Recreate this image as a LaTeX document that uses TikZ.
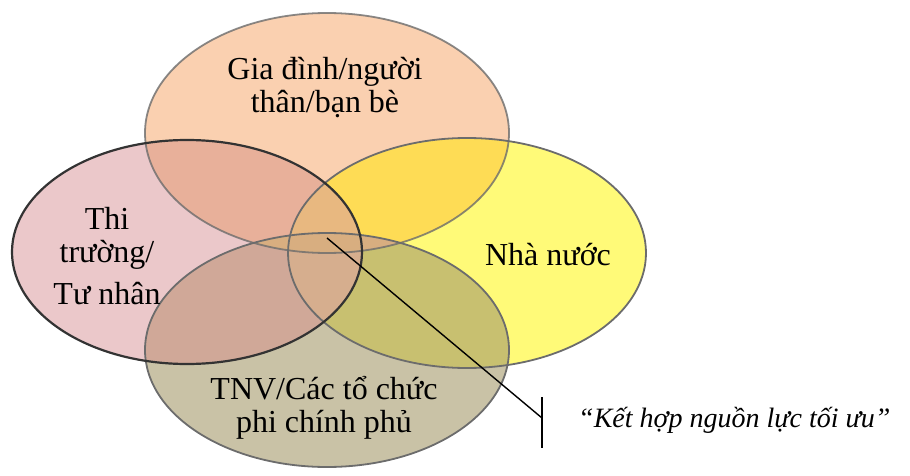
\documentclass[tikz,border=0pt]{standalone}
\usepackage{fontspec}
\setmainfont{Liberation Serif}
\definecolor{cT}{HTML}{FAD0B0}
\definecolor{cR}{HTML}{FFFA78}
\definecolor{cL}{HTML}{EBC8CA}
\definecolor{cB}{HTML}{C9C2A6}
\definecolor{cTR}{HTML}{FEDC55}
\definecolor{cRB}{HTML}{C8C070}
\definecolor{cTL}{HTML}{E8B09A}
\definecolor{cLB}{HTML}{D0A898}
\definecolor{cLR}{HTML}{E2B888}
\definecolor{cTLR}{HTML}{E8B880}
\definecolor{cBLR}{HTML}{D6AE8E}
\definecolor{cTB}{HTML}{D8AE80}
\tikzset{
  lbl/.style={font=\fontsize{32}{33}\selectfont, align=center, inner sep=0pt},
  quote/.style={font=\fontsize{28}{28}\selectfont\itshape, inner sep=0pt},
  grayline/.style={draw=gray!85!black, line width=1.8pt},
  darkline/.style={draw=black!80, line width=2.2pt},
  leader/.style={draw=black, line width=1.4pt}
}
\newcommand{\shT}{(327,133) ellipse [x radius=182, y radius=120]}
\newcommand{\shR}{(467,253) ellipse [x radius=179, y radius=115]}
\newcommand{\shL}{(187,252) ellipse [x radius=175, y radius=112]}
\newcommand{\shB}{(327,350) ellipse [x radius=182, y radius=117]}
\begin{document}
\begin{tikzpicture}[x=1pt,y=-1pt]
\useasboundingbox (0,0) rectangle (910,476);
% base fills
\fill[cT] \shT;
\fill[cR] \shR;
\fill[cB] \shB;
\fill[cL] \shL;
% pairwise overlaps
\begin{scope}\clip \shT; \fill[cTR] \shR; \end{scope}
\begin{scope}\clip \shR; \fill[cRB] \shB; \end{scope}
\begin{scope}\clip \shT; \fill[cTL] \shL; \end{scope}
\begin{scope}\clip \shL; \fill[cLB] \shB; \end{scope}
\begin{scope}\clip \shL; \fill[cLR] \shR; \end{scope}
\begin{scope}\clip \shL; \clip \shR; \fill[cTLR] \shT; \end{scope}
\begin{scope}\clip \shL; \clip \shR; \fill[cBLR] \shB; \end{scope}
\begin{scope}\clip \shT; \fill[cTB] \shB; \end{scope}
% outlines
\draw[grayline, draw opacity=0.8] \shT;
\draw[grayline] \shR;
\draw[grayline] \shB;
\draw[darkline] \shL;
% labels
\node[lbl] (fam) at (325,88) {Gia đình/người\\thân/bạn bè};
\node[lbl] (mkt) at (107,256) {Thi\\trường/\\[9pt]Tư nhân};
\node[lbl] (gov) at (548,255) {Nhà nước};
\node[lbl] (ngo) at (324,408) {TNV/Các tổ chức\\phi chính phủ};
% leader
\coordinate (p) at (327,238);
\coordinate (q) at (542,418);
\coordinate (qa) at (542,397);
\coordinate (qb) at (542,448);
\draw[leader] (p) -- (q);
\draw[leader] (qa) -- (qb);
\node[quote, anchor=west] (opt) at (578,420) {“Kết hợp nguồn lực tối ưu”};
\end{tikzpicture}
\end{document}
